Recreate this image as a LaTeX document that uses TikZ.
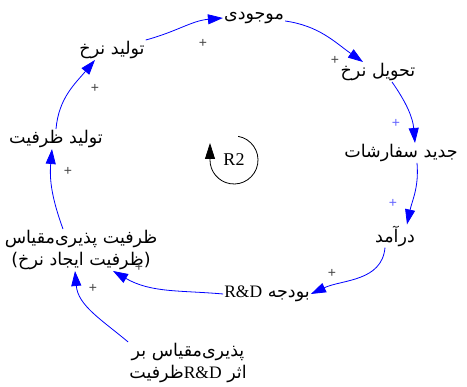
\documentclass[tikz,border=0pt]{standalone}
\usepackage{fontspec}
\setmainfont{Liberation Serif}
\newfontfamily\farsi[Script=Arabic]{DejaVu Sans}
\newfontfamily\plusfont{Liberation Sans}
\TeXXeTstate=1
\usetikzlibrary{arrows.meta}
\definecolor{linkblue}{RGB}{0,0,255}
\definecolor{polgray}{RGB}{70,70,70}
\definecolor{polblue}{RGB}{100,100,255}
\newcommand{\fa}[1]{\beginR#1\endR}
\newcommand{\lat}[1]{\beginL{\rmfamily #1}\endL}
\newcommand{\polsign}[4]{\node[pol,text=#4] (#1) at (#2,#3) {+};}

\begin{document}
\begin{tikzpicture}[x=1pt,y=1pt,
  var/.style={font=\farsi\fontsize{17.5}{22}\selectfont,inner sep=1pt,align=center},
  link/.style={draw=linkblue,line width=0.8pt,-{Triangle[length=15pt,width=10pt,fill=linkblue]}},
  pol/.style={font=\plusfont\fontsize{14}{14}\selectfont,inner sep=0pt}]
\useasboundingbox (0,0) rectangle (467,387);
% variables
\node[var] (mojudi) at (254,369) {\fa{موجودی}};
\node[var] (tahvil) at (378,315) {\fa{تحویل نرخ}};
\node[var] (jadid) at (401,234) {\fa{جدید سفارشات}};
\node[var] (daramad) at (395,151) {\fa{درآمد}};
\node[var] (budje) at (267,93) {\fa{بودجه \lat{R\&D}}};
\node[var] (zarfiat) at (81,137) {\fa{ظرفیت پذیری^^^^200cمقیاس}\\\fa{\hbox{(}ظرفیت ایجاد نرخ\hbox{)}}};
\node[var] (tolidzarfiat) at (56,248) {\fa{تولید ظرفیت}};
\node[var] (tolidnerkh) at (112,337) {\fa{تولید نرخ}};
\node[var] (asar) at (188,24) {\fa{پذیری^^^^200cمقیاس بر}\\\fa{اثر \lat{R\&D}ظرفیت}};
% loop
\node[font=\fontsize{18}{18}\selectfont] (r2) at (234,227) {R2};
\draw[line width=0.8pt,-{Triangle[length=16pt,width=10pt]}] ([shift={(80:24)}]r2.center) arc[start angle=80,end angle=-180,radius=24] -- ++(0,17);
% links
\draw[link] (tolidnerkh.north east) to[out=15,in=-175] (mojudi.west);
\draw[link] ([yshift=-3pt]mojudi.east) to[out=-8,in=145] ([xshift=-15pt]tahvil.north);
\draw[link] ([xshift=14pt]tahvil.south) to[out=-55,in=95] ([xshift=14pt]jadid.north);
\draw[link] ([xshift=16pt]jadid.south) to[out=-85,in=78] ([xshift=12pt]daramad.north);
\draw[link] ([xshift=-10pt]daramad.south) to[out=-95,in=25] (budje.east);
\draw[link] (budje.west) to[out=175,in=-30] ([xshift=32pt]zarfiat.south);
\draw[link] (asar.north west) to[out=140,in=-85] ([xshift=-6pt]zarfiat.south);
\draw[link] ([xshift=-18pt]zarfiat.north) to[out=110,in=-95] ([xshift=-4pt]tolidzarfiat.south);
\draw[link] (tolidzarfiat.north) to[out=85,in=-130] ([xshift=-17pt]tolidnerkh.south);
% polarities
\polsign{p1}{203}{344}{polgray}
\polsign{p2}{335}{327}{polgray}
\polsign{p3}{396}{264}{polblue}
\polsign{p4}{393}{184}{polblue}
\polsign{p5}{332}{114}{polgray}
\polsign{p6}{139}{120}{polgray}
\polsign{p7}{93}{99}{polgray}
\polsign{p8}{68}{216}{polgray}
\polsign{p9}{95}{299}{polgray}
\end{tikzpicture}
\end{document}
